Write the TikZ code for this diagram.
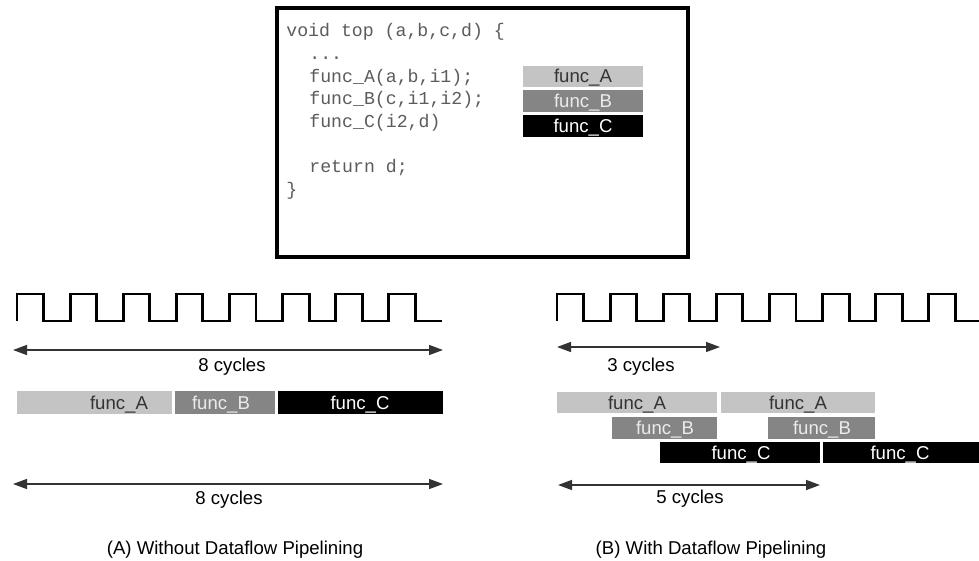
\documentclass[tikz,border=0pt]{standalone}
\usepackage{fontspec}
\setmainfont{Liberation Sans}
\newfontfamily\codefont{Liberation Mono}
\usepackage{tikz}
\usetikzlibrary{arrows.meta}
\definecolor{barA}{rgb}{0.77,0.77,0.77}
\definecolor{barB}{rgb}{0.52,0.52,0.52}
\definecolor{barC}{rgb}{0,0,0}
\definecolor{txtA}{rgb}{0.2,0.2,0.2}
\definecolor{txtB}{rgb}{0.92,0.92,0.92}
\definecolor{codegray}{rgb}{0.36,0.36,0.36}
\definecolor{dimgray}{rgb}{0.2,0.2,0.2}
\tikzset{
  lbl/.style={inner sep=0pt,anchor=base,font=\fontsize{9.3}{11}\selectfont},
  codeline/.style={inner sep=0pt,anchor=base west,text=codegray,font=\codefont\fontsize{9.1}{11}\selectfont},
  clockline/.style={line width=1.4pt,line join=miter},
  dimarrow/.style={draw=dimgray,line width=0.75pt,{Triangle[length=7pt,width=5pt]}-{Triangle[length=7pt,width=5pt]}},
  codebox/.style={draw=black,line width=1.6pt,fill=white}
}
\newcommand{\drawclock}[1]{
  \draw[clockline] (#1,321) \foreach \i in {1,...,8} { -- ++(0,-27) -- ++(26.5,0) -- ++(0,27) -- ++(26.625,0) };
}
\newcommand{\drawbar}[9]{
  \fill[#6] (#2,#3) rectangle (#4,#5);
  \node[lbl,text=#7] (#1) at (#8,{#3/2+#5/2+6.5}) {#9};
}

\begin{document}
\begin{tikzpicture}[x=0.5pt,y=-0.5pt]
      \useasboundingbox (0,0) rectangle (979,561);

      %% code of the top function
      \draw[codebox] (277,8) rectangle (688,257);
      \node[codeline] (c1) at (286,37) {void top (a,b,c,d) \{};
      \node[codeline] (c2) at (309,59.6) {...};
      \node[codeline] (c3) at (309,82.2) {func\_A(a,b,i1);};
      \node[codeline] (c4) at (309,104.8) {func\_B(c,i1,i2);};
      \node[codeline] (c5) at (309,127.4) {func\_C(i2,d)};
      \node[codeline] (c6) at (309,172.6) {return d;};
      \node[codeline] (c7) at (286,195.2) {\}};
      \drawbar{cA}{523}{66}{643}{87}{barA}{txtA}{583}{func\_A}
      \drawbar{cB}{523}{90}{643}{112}{barB}{txtB}{583}{func\_B}
      \drawbar{cC}{523}{115}{643}{137}{barC}{white}{583}{func\_C}

      %% (A) without pipelining
      \drawclock{17}
      \coordinate (l8s) at (13,350);
      \coordinate (l8e) at (443,350);
      \draw[dimarrow] (l8s) -- (l8e);
      \node[lbl] (l8t) at (232,371.5) {8 cycles};
      \drawbar{lA}{17}{391}{172}{414}{barA}{txtA}{119}{func\_A}
      \drawbar{lB}{175}{391}{275}{414}{barB}{txtB}{221}{func\_B}
      \drawbar{lC}{278}{391}{443}{414}{barC}{white}{360}{func\_C}
      \coordinate (m8s) at (13,484);
      \coordinate (m8e) at (443,484);
      \draw[dimarrow] (m8s) -- (m8e);
      \node[lbl] (m8t) at (229,504) {8 cycles};
      \node[lbl] (capA) at (235,554) {(A) Without Dataflow Pipelining};

      %% (B) with pipelining
      \drawclock{557}
      \coordinate (r3s) at (557,347);
      \coordinate (r3e) at (720,347);
      \draw[dimarrow] (r3s) -- (r3e);
      \node[lbl] (r3t) at (641,371) {3 cycles};
      \drawbar{rA1}{557}{392}{717}{413}{barA}{txtA}{637}{func\_A}
      \drawbar{rA2}{721}{392}{875}{413}{barA}{txtA}{798}{func\_A}
      \drawbar{rB1}{612}{417}{717}{439}{barB}{txtB}{665}{func\_B}
      \drawbar{rB2}{768}{417}{875}{439}{barB}{txtB}{822}{func\_B}
      \drawbar{rC1}{660}{442}{820}{463}{barC}{white}{741}{func\_C}
      \drawbar{rC2}{823}{442}{985}{463}{barC}{white}{900}{func\_C}
      \coordinate (r5s) at (558,485);
      \coordinate (r5e) at (820,485);
      \draw[dimarrow] (r5s) -- (r5e);
      \node[lbl] (r5t) at (690,503) {5 cycles};
      \node[lbl] (capB) at (711,554) {(B) With Dataflow Pipelining};
\end{tikzpicture}
\end{document}
